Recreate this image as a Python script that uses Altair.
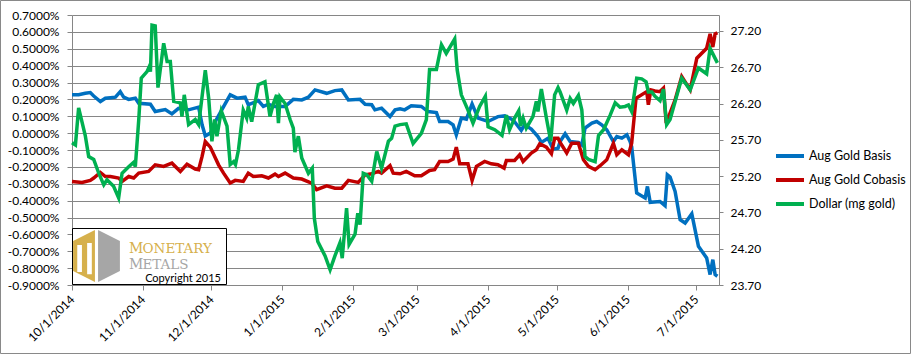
import altair as alt
import pandas as pd

base = pd.Timestamp("2014-10-01")

# x positions are days after 10/1/2014
basis_day = [0, 2.9, 5.8, 8.0, 9.5, 12.4, 14.6, 16.8, 19.0, 21.1, 22.6, 24.8, 27.7, 29.2, 34.3, 36.4, 40.8, 43.7, 46.6, 51.0,
             55.4, 56.9, 58.3, 60.5, 62.7, 66.3, 69.2, 72.2,
             75.7, 77.1, 81.5, 83.7, 85.9, 88.8, 93.2, 96.8, 100.5, 103.4, 106.3, 111.4, 115.0, 118.0, 120.9, 126.0, 128.2,
             131.1, 132.5, 135.4, 139.1, 141.3, 143.5,
             145.5, 148.4, 152.8, 155.7, 159.4, 160.8, 164.5, 166.7, 168.1, 170.3, 172.5, 175.0, 177.6, 182.0, 186.3, 189.3,
             192.9, 196.5, 198.0, 200.9, 203.8, 205.3, 208.2, 210.4, 212.6,
             213.5, 215.7, 217.9, 221.5, 223.0, 224.4, 227.4, 229.5, 231.7, 233.9, 236.8, 238.3, 240.5, 242.7, 244.1, 244.8,
             247.0, 250.7, 251.7, 252.9, 257.2, 259.4, 260.4, 261.6, 263.8, 266.0, 268.2, 271.1, 274.0, 277.6, 279.1, 280.3,
             281.3, 282.3]
basis_pct = [0.227, 0.227, 0.236, 0.24, 0.22, 0.187, 0.207, 0.21, 0.213, 0.246, 0.213, 0.20, 0.207, 0.177, 0.171, 0.128, 0.14,
             0.114, 0.147, 0.138, 0.154, 0.049, -0.016, 0.0, 0.069, 0.157, 0.227, 0.207,
             0.213, 0.168, 0.193, 0.158, 0.171, 0.158, 0.158, 0.2, 0.197, 0.213, 0.256, 0.236, 0.252, 0.256, 0.197, 0.2, 0.171,
             0.168, 0.138, 0.148, 0.098, 0.138, 0.144,
             0.138, 0.162, 0.158, 0.128, 0.122, 0.069, 0.069, 0.049, -0.01, 0.089, 0.083, 0.173, 0.089, 0.069, 0.098, 0.102,
             0.079, 0.016, 0.049, 0.024, -0.02, -0.055, -0.03, -0.095, -0.09,
             -0.05, -0.004, -0.05, -0.055, -0.07, 0.03, 0.059, 0.069, 0.049, 0.02, -0.05, -0.02, -0.03, -0.01, -0.05, -0.08,
             -0.355, -0.385, -0.316, -0.41, -0.405, -0.43, -0.247, -0.26, -0.345, -0.513, -0.533, -0.478, -0.67, -0.74,
             -0.838, -0.75, -0.838, -0.848]

cobasis_day = [0, 4.4, 8.0, 9.5, 12.4, 14.6, 16.8, 20.4, 21.9, 24.8, 27.0, 29.2, 33.5, 36.4, 40.1, 43.7, 47.4, 50.3, 53.9,
               55.4, 56.9, 58.3, 60.5, 64.1, 66.3, 69.2, 71.4,
               74.9, 77.1, 79.3, 83.0, 85.9, 88.8, 90.3, 93.2, 96.8, 100.5, 104.8, 107.0, 111.4, 115.0, 118.0, 120.9, 125.2,
               128.2, 131.1, 134.0, 135.4, 139.1, 140.5, 143.5,
               146.2, 149.9, 152.8, 156.4, 158.6, 160.8, 164.5, 166.7, 168.1, 169.6, 173.2, 175.0, 176.9, 180.5, 183.4, 186.3,
               189.0, 190.0, 193.6, 195.8, 197.3, 200.9, 203.1, 204.6, 207.5, 209.7, 211.1, 212.6,
               213.5, 216.4, 218.6, 221.5, 223.7, 225.9, 228.8, 231.0, 233.9, 236.8, 238.3, 240.5, 243.4, 244.8, 246.7, 251.4,
               252.1, 253.2, 255.0, 257.2, 258.7, 259.9, 263.8, 266.7, 270.4, 273.3, 277.6, 279.1, 280.3, 281.3, 282.3]
cobasis_pct = [-0.286, -0.292, -0.28, -0.266, -0.233, -0.257, -0.257, -0.266, -0.286, -0.257, -0.266, -0.237, -0.227, -0.188,
               -0.197, -0.178, -0.227, -0.184, -0.213, -0.217, -0.138, -0.05, -0.083, -0.188, -0.237, -0.296, -0.28,
               -0.286, -0.237, -0.257, -0.253, -0.266, -0.243, -0.257, -0.237, -0.266, -0.272, -0.296, -0.335, -0.312, -0.326,
               -0.326, -0.28, -0.292, -0.247, -0.241, -0.227, -0.237, -0.193, -0.237, -0.241,
               -0.227, -0.253, -0.253, -0.221, -0.217, -0.168, -0.168, -0.154, -0.083, -0.182, -0.182, -0.28, -0.197, -0.168,
               -0.182, -0.187, -0.207, -0.162, -0.162, -0.128, -0.168, -0.118, -0.099, -0.063, -0.083, -0.122, -0.03, -0.03,
               -0.055, -0.118, -0.06, -0.06, -0.158, -0.197, -0.217, -0.193, -0.158, -0.06, -0.128, -0.099, -0.128, -0.06,
               0.207, 0.246, 0.168, 0.256, 0.25, 0.246, 0.266, 0.059, 0.197, 0.335, 0.256, 0.444, 0.503, 0.588, 0.51, 0.588,
               0.595]

dollar_day = [0, 1.5, 2.9, 5.8, 7.3, 9.5, 11.7, 13.9, 15.3, 18.2, 20.4, 21.9, 24.8, 27.0, 27.7, 29.2, 30.3, 32.8, 33.8, 34.3,
              35.0, 36.4, 37.6, 40.1, 41.6, 43.0, 44.5, 47.4, 48.1, 49.1, 51.0, 53.9, 55.4, 58.3, 59.8, 61.2, 62.4, 63.4,
              65.3, 67.8, 69.2, 70.7, 71.5, 72.8,
              74.9, 76.4, 77.1, 78.6, 81.5, 84.4, 86.6, 88.1, 89.5, 90.3, 91.0, 93.2, 95.4, 96.8, 97.5, 99.0, 100.5, 103.4,
              105.1, 106.0, 107.5, 110.7, 112.9, 115.0, 117.2, 118.2, 120.1, 121.2, 123.8, 125.0, 126.0, 127.4, 128.9,
              131.1, 133.3, 135.4, 138.4, 139.8, 141.3, 143.5,
              146.2, 149.2, 152.8, 155.0, 156.4, 159.4, 161.6, 163.7, 167.4, 168.5, 170.3, 173.2, 175.4, 178.3, 180.8, 182.0,
              184.9, 188.1, 190.0, 191.4, 193.6, 195.4, 196.2, 197.3, 198.7, 201.6, 203.1, 203.8, 205.3, 207.5, 209.4,
              211.1, 212.6,
              213.5, 216.4, 217.9, 219.3, 221.5, 223.0, 224.4, 225.9, 228.8, 230.3, 232.5, 235.4, 237.6, 239.7, 241.9,
              243.4, 244.8, 247.0, 249.2, 251.1, 252.1, 253.6, 255.0, 257.2, 258.7, 260.1, 261.6, 266.7, 270.4, 274.0,
              277.6, 279.1, 282.3]
dollar_mg = [25.66, 25.63, 26.14, 25.76, 25.47, 25.43, 25.24, 25.08, 25.15, 25.06, 24.90, 25.24, 25.33, 25.39, 25.33, 25.98,
             26.55, 26.64, 26.71, 26.64, 27.28, 27.27, 26.42, 27.03, 26.78, 26.78, 26.23, 26.21, 26.02, 26.32, 25.91, 25.98,
             25.91, 26.66, 26.27, 25.68, 25.98, 25.75, 26.10, 25.89, 25.36, 25.40, 25.36, 25.56,
             26.11, 26.00, 26.16, 25.95, 26.46, 26.50, 26.02, 26.20, 26.32, 25.93, 26.29, 26.20, 25.98, 25.86, 25.53, 25.75,
             25.45, 25.24, 25.31, 24.62, 24.30, 24.10, 23.91, 24.10, 24.28, 24.07, 24.76, 24.26, 24.40, 24.69, 24.53, 25.24,
             25.22, 25.13, 25.54, 25.31, 25.68, 25.72, 25.89, 25.91,
             25.92, 25.65, 25.79, 25.98, 26.67, 26.67, 27.01, 26.89, 27.09, 26.66, 26.32, 26.11, 25.93, 26.16, 26.30, 25.88,
             25.84, 25.76, 26.04, 25.84, 26.00, 26.10, 25.89, 26.00, 25.86, 26.02, 26.23, 26.09, 26.40, 26.00, 25.68, 26.32,
             26.42,
             26.36, 26.11, 26.27, 26.20, 26.31, 26.11, 25.47, 25.43, 25.40, 25.76, 25.84, 26.04, 26.21, 26.15, 26.16, 26.18,
             26.09, 26.55, 26.54, 26.50, 26.36, 26.36, 26.30, 26.24, 26.40, 25.91, 25.98, 26.55, 26.39, 26.69, 26.61, 26.96,
             26.76]

series_names = ["Aug Gold Basis", "Aug Gold Cobasis", "Dollar (mg gold)"]
series_colors = ["#0070C0", "#C00000", "#00B050"]

left_ticks = [-0.9, -0.8, -0.7, -0.6, -0.5, -0.4, -0.3, -0.2, -0.1, 0.0, 0.1, 0.2, 0.3, 0.4, 0.5, 0.6, 0.7]
right_ticks = [23.7, 24.2, 24.7, 25.2, 25.7, 26.2, 26.7, 27.2]
month_ticks = [(2014, 10), (2014, 11), (2014, 12), (2015, 1), (2015, 2), (2015, 3), (2015, 4), (2015, 5), (2015, 6),
               (2015, 7)]

FONT = "Lato"
GREY = "#868686"


def frame(days, vals, name):
    return pd.DataFrame({"date": base + pd.to_timedelta(days, unit="D"), "value": vals, "series": name})


left_df = pd.concat([frame(basis_day, basis_pct, series_names[0]),
                     frame(cobasis_day, cobasis_pct, series_names[1])], ignore_index=True)
right_df = frame(dollar_day, dollar_mg, series_names[2])

x_enc = alt.X(
    "date:T",
    title=None,
    scale=alt.Scale(domain=[alt.DateTime(year=2014, month=10, date=1),
                            alt.DateTime(year=2015, month=7, date=11)]),
    axis=alt.Axis(values=[alt.DateTime(year=y, month=m, date=1) for y, m in month_ticks],
                  format="%-m/%-d/%Y", labelAngle=-45, labelAlign="right", labelBaseline="middle",
                  tickSize=5, labelPadding=7, grid=False, domainColor=GREY, tickColor=GREY,
                  labelFont=FONT, labelFontSize=12, labelColor="#000000"),
)

color_enc = alt.Color(
    "series:N",
    scale=alt.Scale(domain=series_names, range=series_colors),
    legend=alt.Legend(title=None, orient="none", legendX=702, legendY=125, symbolType="stroke",
                      symbolSize=784, symbolStrokeWidth=4, labelFont=FONT, labelFontSize=12.5,
                      labelColor="#000000", rowPadding=0, padding=0, labelOffset=3),
)

left = alt.Chart(left_df).mark_line(strokeWidth=3.5).encode(
    x=x_enc,
    y=alt.Y("value:Q", title=None,
            scale=alt.Scale(domain=[-0.9, 0.7], nice=False, zero=False),
            axis=alt.Axis(orient="left", values=left_ticks,
                          labelExpr="(datum.value < 0 ? '-' : '') + format(abs(datum.value), '.4f') + '%'",
                          grid=True, gridColor=GREY, gridWidth=1, domainColor=GREY, tickColor=GREY,
                          tickSize=5, labelPadding=8, labelFont=FONT, labelFontSize=12, labelColor="#000000")),
    color=color_enc,
)

right = alt.Chart(right_df).mark_line(strokeWidth=3.5).encode(
    x=x_enc,
    y=alt.Y("value:Q", title=None,
            scale=alt.Scale(domain=[23.7, 27.42], nice=False, zero=False),
            axis=alt.Axis(orient="right", values=right_ticks, format=".2f", grid=False,
                          domainColor=GREY, tickColor=GREY, tickSize=4, labelPadding=7,
                          labelFont=FONT, labelFontSize=12, labelColor="#000000")),
    color=color_enc,
)

one = pd.DataFrame({"k": [0]})

frame_rect = alt.Chart(one).mark_rect(fillOpacity=0, stroke="#898989", strokeWidth=1).encode(
    x=alt.value(-71.5), x2=alt.value(838.5), y=alt.value(-14.5), y2=alt.value(338.5))

logo_box = alt.Chart(one).mark_rect(fill="white", stroke="black", strokeWidth=1).encode(
    x=alt.value(0.5), x2=alt.value(154.5), y=alt.value(213.5), y2=alt.value(269.5))

gold_half = ("M -0.06 -1 L -0.9 -0.58 L -0.9 0.58 L -0.06 1 Z "
             "M -0.74 -0.42 L -0.56 -0.42 L -0.56 0.62 L -0.74 0.62 Z "
             "M -0.36 -0.5 L -0.18 -0.5 L -0.18 0.7 L -0.36 0.7 Z")
grey_half = ("M 0.06 -1 L 0.9 -0.58 L 0.9 0.58 L 0.06 1 Z "
             "M 0.74 -0.42 L 0.74 0.62 L 0.56 0.62 L 0.56 -0.42 Z "
             "M 0.36 -0.5 L 0.36 0.7 L 0.18 0.7 L 0.18 -0.5 Z")

logo_gold = alt.Chart(one).mark_point(shape=gold_half, filled=True, fill="#D6B04C", strokeWidth=0,
                                      opacity=1, size=2704).encode(x=alt.value(24.5), y=alt.value(241))
logo_grey = alt.Chart(one).mark_point(shape=grey_half, filled=True, fill="#A6A6A6", strokeWidth=0,
                                      opacity=1, size=2704).encode(x=alt.value(24.5), y=alt.value(241))

serif = "DejaVu Serif"
t1 = alt.Chart(one).mark_text(text="M", font=serif, fontSize=14, color="#D6B04C", align="left",
                              baseline="alphabetic").encode(x=alt.value(57), y=alt.value(238))
t2 = alt.Chart(one).mark_text(text="ONETARY", font=serif, fontSize=13.5, color="#D6B04C", align="left",
                              baseline="alphabetic").encode(x=alt.value(70.5), y=alt.value(238))
t3 = alt.Chart(one).mark_text(text="M", font=serif, fontSize=14, color="#A6A6A6", align="left",
                              baseline="alphabetic").encode(x=alt.value(57), y=alt.value(253.5))
t4 = alt.Chart(one).mark_text(text="ETALS", font=serif, fontSize=13.5, color="#A6A6A6", align="left",
                              baseline="alphabetic").encode(x=alt.value(70.5), y=alt.value(253.5))
t5 = alt.Chart(one).mark_text(text="Copyright 2015", font=FONT, fontSize=11, color="#000000", align="right",
                              baseline="alphabetic").encode(x=alt.value(149), y=alt.value(267))

chart = alt.layer(left, right, frame_rect, logo_box, logo_gold, logo_grey, t1, t2, t3, t4, t5).resolve_scale(
    y="independent"
).properties(
    width=647, height=270,
    padding={"left": 72, "top": 15, "right": 192, "bottom": 70},
    autosize=alt.AutoSizeParams(type="none"),
    background="white",
).configure_view(strokeWidth=0)

chart.save("out.html", embed_options={"renderer": "svg", "actions": False})
